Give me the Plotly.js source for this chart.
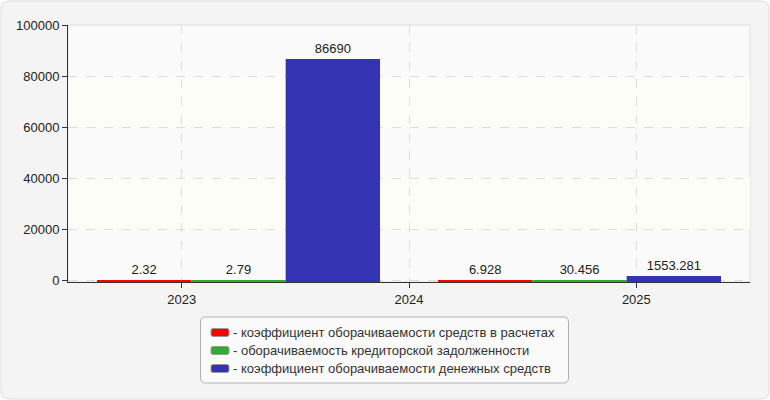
<!DOCTYPE html>
<html>
<head>
<meta charset="utf-8">
<script src="https://cdn.plot.ly/plotly-3.0.1.min.js"></script>
<style>html,body{margin:0;padding:0;background:#ffffff;}#chart{width:770px;height:400px;}</style>
</head>
<body>
<div id="chart"></div>
<script>
// Data
const periods = ["P1", "P2"];
const yearTicks = ["2023", "2024", "2025"];
const seriesNames = [
  "- коэффициент оборачиваемости средств в расчетах",
  "- оборачиваемость кредиторской задолженности",
  "- коэффициент оборачиваемости денежных средств"
];
const receivablesTurnover = [2.32, 6.928];
const payablesTurnover = [2.79, 30.456];
const cashTurnover = [86690, 1553.281];
const seriesColors = ["#ff0000", "#33aa33", "#3333b3"];
const seriesValues = [receivablesTurnover, payablesTurnover, cashTurnover];

// minimum visible thickness for tiny bars (in y units, about 2px)
const barFloor = -750;

// invisible trace carrying the year axis (main subplot, drawn underneath)
const traces = [{
  type: "scatter",
  mode: "none",
  x: yearTicks,
  y: yearTicks.map(() => 0),
  xaxis: "x",
  yaxis: "y",
  showlegend: false,
  hoverinfo: "skip"
}];

seriesValues.forEach((vals, i) => traces.push({
  type: "bar",
  x: periods,
  y: vals.map(v => v - barFloor),
  base: barFloor,
  name: seriesNames[i],
  marker: {color: seriesColors[i], line: {width: 0}},
  text: vals.map(v => String(v)),
  textposition: "outside",
  textfont: {size: 13, color: "#222"},
  cliponaxis: false,
  hoverinfo: "skip",
  showlegend: false,
  xaxis: "x2",
  yaxis: "y"
}));

const L = 68, R = 750, T = 25, B = 282, W = 770, H = 400;
const pw = R - L, ph = B - T;
const px = v => (v - L) / pw;
const py = v => (B - v) / ph;

function roundedPath(x0, y0, x1, y1, r) {
  const pts = [
    ["M", x0 + r, y0], ["L", x1 - r, y0], ["Q", x1, y0, x1, y0 + r],
    ["L", x1, y1 - r], ["Q", x1, y1, x1 - r, y1], ["L", x0 + r, y1],
    ["Q", x0, y1, x0, y1 - r], ["L", x0, y0 + r], ["Q", x0, y0, x0 + r, y0]
  ];
  return pts.map(p => {
    const nums = p.slice(1);
    const out = [];
    for (let k = 0; k < nums.length; k += 2) out.push(px(nums[k]) + "," + py(nums[k + 1]));
    return p[0] + out.join(" ");
  }).join(" ") + " Z";
}

const shapes = [
  {type: "path", xref: "paper", yref: "paper", path: roundedPath(1, 1, W - 1, H - 1, 8),
   fillcolor: "#f4f4f4", line: {color: "#dddddd", width: 1}, layer: "below"},
  {type: "rect", xref: "paper", yref: "paper", x0: 0, x1: 1, y0: 0, y1: 1,
   fillcolor: "#fafafa", line: {color: "#dddddd", width: 1}, layer: "below"},
  {type: "rect", xref: "paper", yref: "y", x0: 0, x1: 1, y0: 20000, y1: 40000,
   fillcolor: "#fcfdf6", line: {width: 0}, layer: "below"},
  {type: "rect", xref: "paper", yref: "y", x0: 0, x1: 1, y0: 60000, y1: 80000,
   fillcolor: "#fcfdf6", line: {width: 0}, layer: "below"},
  {type: "path", xref: "paper", yref: "paper", path: roundedPath(200.5, 317, 568.5, 383, 5),
   fillcolor: "#fafafa", line: {color: "#b0b0b0", width: 1}, layer: "above"}
];

const annotations = [];
const rowY = [332.5, 350.5, 368.5];
seriesNames.forEach((name, i) => {
  shapes.push({type: "path", xref: "paper", yref: "paper",
    path: roundedPath(211, rowY[i] - 4, 229, rowY[i] + 4, 2),
    fillcolor: seriesColors[i], line: {color: "#999999", width: 1}, layer: "above"});
  annotations.push({xref: "paper", yref: "paper", x: px(231), y: py(rowY[i]),
    xanchor: "left", yanchor: "middle", showarrow: false, text: name,
    font: {size: 13, color: "#333"}});
});

const layout = {
  width: W, height: H,
  margin: {l: L, r: W - R, t: T, b: H - B, pad: 0},
  paper_bgcolor: "#ffffff",
  plot_bgcolor: "rgba(0,0,0,0)",
  font: {family: "Liberation Sans, Arial, sans-serif", size: 13, color: "#222"},
  barmode: "group",
  bargap: 0.17,
  bargroupgap: 0,
  showlegend: false,
  xaxis: {
    type: "category", anchor: "y", side: "bottom",
    range: [-0.5, yearTicks.length - 0.5],
    showgrid: true, gridcolor: "#dddddd", griddash: "dash", gridwidth: 1,
    showline: true, linecolor: "#333333", linewidth: 1,
    ticks: "outside", ticklen: 5, tickcolor: "#333333",
    tickfont: {size: 13, color: "#222"}, zeroline: false
  },
  xaxis2: {
    type: "category", overlaying: "x", anchor: "y",
    range: [-0.5, periods.length - 0.5],
    visible: false, showgrid: false, fixedrange: true
  },
  yaxis: {
    range: [barFloor, 100000], tickvals: [0, 20000, 40000, 60000, 80000, 100000],
    showgrid: true, gridcolor: "#dddddd", griddash: "dash", gridwidth: 1,
    showline: true, linecolor: "#333333", linewidth: 1,
    ticks: "outside", ticklen: 5, tickcolor: "#333333",
    tickfont: {size: 13, color: "#222"}, zeroline: false,
    tickformat: "d"
  },
  shapes: shapes,
  annotations: annotations
};

Plotly.newPlot("chart", traces, layout, {displayModeBar: false, staticPlot: true});
</script>
</body>
</html>
